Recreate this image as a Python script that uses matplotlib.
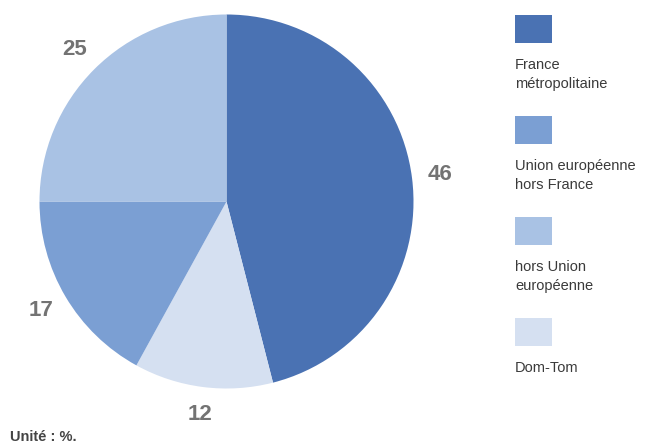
import matplotlib.pyplot as plt
from matplotlib.patches import Rectangle

plt.rcParams["font.family"] = ["Liberation Sans", "DejaVu Sans"]

# parts in legend order
categories = ["France\nmétropolitaine", "Union européenne\nhors France",
              "hors Union\neuropéenne", "Dom-Tom"]
shares = [46, 17, 25, 12]
colors = ["#4a72b3", "#7b9fd3", "#a9c2e4", "#d5e0f1"]

# clockwise from 12 o'clock: France, Dom-Tom, UE hors France, hors UE
pie_order = [0, 3, 1, 2]

W, H = 645, 447
fig = plt.figure(figsize=(W / 100, H / 100), dpi=100)

cx, cy, r = 226.5, 201.5, 187
ax = fig.add_axes([(cx - r) / W, (H - cy - r) / H, 2 * r / W, 2 * r / H])
ax.pie([shares[i] for i in pie_order],
       colors=[colors[i] for i in pie_order],
       labels=[str(shares[i]) for i in pie_order],
       startangle=90, counterclock=False, radius=1,
       labeldistance=1.15,
       textprops=dict(fontsize=16, fontweight="bold", color="#737373",
                      ha="center", va="center"),
       wedgeprops=dict(linewidth=0))
ax.set_xlim(-1, 1)
ax.set_ylim(-1, 1)
ax.set_aspect("equal")
ax.axis("off")

# stacked legend: swatch above each label
x0, top0, step = 515, 15, 101
for k, (lab, col) in enumerate(zip(categories, colors)):
    top = top0 + k * step
    fig.add_artist(Rectangle((x0 / W, 1 - (top + 28) / H), 37 / W, 28 / H,
                             transform=fig.transFigure, facecolor=col,
                             edgecolor="none"))
    fig.text(x0 / W, 1 - (top + 43) / H, lab, ha="left", va="top",
             fontsize=10.5, color="#3a3a3a", linespacing=1.45)

fig.text(10 / W, 1 - 437 / H, "Unité : %.", ha="left", va="center",
         fontsize=10.5, fontweight="bold", color="#444444")

fig.savefig("out.png", dpi=100)
